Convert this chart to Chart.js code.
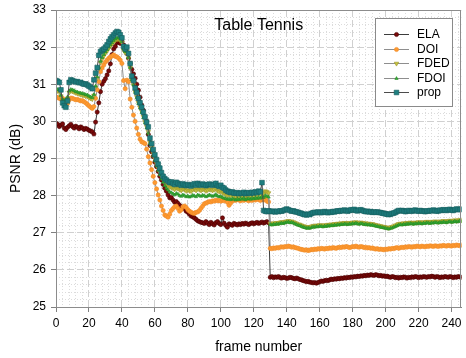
<!DOCTYPE html>
<html>
<head>
<meta charset="utf-8">
<script src="https://cdn.jsdelivr.net/npm/chart.js@4.4.1/dist/chart.umd.min.js"></script>
<style>
  html, body { margin: 0; padding: 0; background: #ffffff; }
  canvas { display: block; }
</style>
</head>
<body>
<canvas id="psnr" width="466" height="358"></canvas>
<script>
// PSNR per frame for the "Table Tennis" sequence, one array per method.
const ELA = [
  29.95, 29.92, 29.86, 29.90, 29.93, 29.82, 29.78, 29.84, 29.88, 29.92,
  29.86, 29.82, 29.87, 29.84, 29.80, 29.85, 29.82, 29.78, 29.81, 29.79,
  29.76, 29.74, 29.72, 29.66, 29.98, 30.25, 30.50, 30.80, 31.00, 31.08,
  31.15, 31.25, 31.36, 31.55, 31.80, 31.95, 32.02, 32.12, 32.14, 32.10,
  32.15, 32.06, 31.95, 31.83, 31.70, 31.56, 31.40, 31.28, 31.16, 31.00,
  30.84, 30.65, 30.44, 30.30, 30.12, 30.00, 29.65, 29.35, 29.18, 29.05,
  28.90, 28.78, 28.65, 28.52, 28.42, 28.30, 28.20, 28.12, 28.02, 27.94,
  27.95, 27.88, 27.82, 27.84, 27.79, 27.74, 27.70, 27.66, 27.65, 27.58,
  27.55, 27.50, 27.45, 27.43, 27.40, 27.36, 27.32, 27.30, 27.28, 27.27,
  27.25, 27.30, 27.26, 27.22, 27.28, 27.24, 27.21, 27.27, 27.30, 27.25,
  27.22, 27.40, 27.26, 27.20, 27.15, 27.24, 27.22, 27.20, 27.25, 27.23,
  27.21, 27.24, 27.22, 27.25, 27.23, 27.26, 27.24, 27.22, 27.25, 27.27,
  27.24, 27.26, 27.28, 27.25, 27.27, 27.29, 27.26, 27.28, 27.30, 27.27,
  25.80, 25.82, 25.79, 25.81, 25.80, 25.82, 25.79, 25.78, 25.80, 25.79,
  25.77, 25.78, 25.80, 25.79, 25.77, 25.76, 25.78, 25.76, 25.74, 25.73,
  25.71, 25.70, 25.68, 25.69, 25.67, 25.66, 25.65, 25.66, 25.64, 25.66,
  25.68, 25.70, 25.69, 25.71, 25.72, 25.71, 25.73, 25.75, 25.74, 25.76,
  25.75, 25.77, 25.76, 25.78, 25.77, 25.79, 25.78, 25.80, 25.79, 25.81,
  25.80, 25.82, 25.81, 25.83, 25.82, 25.84, 25.83, 25.85, 25.84, 25.86,
  25.85, 25.87, 25.86, 25.85, 25.87, 25.86, 25.84, 25.85, 25.83, 25.84,
  25.82, 25.83, 25.81, 25.80, 25.82, 25.81, 25.79, 25.80, 25.78, 25.80,
  25.79, 25.81, 25.80, 25.78, 25.80, 25.79, 25.81, 25.80, 25.82, 25.81,
  25.79, 25.81, 25.80, 25.82, 25.81, 25.80, 25.82, 25.81, 25.83, 25.82,
  25.80, 25.82, 25.81, 25.79, 25.81, 25.80, 25.82, 25.81, 25.80, 25.82,
  25.81, 25.79, 25.81, 25.80, 25.82, 25.81, 25.80
];

const DOI = [
  30.66, 30.64, 30.62, 30.60, 30.62, 30.57, 30.50, 30.48, 30.58, 30.63,
  30.62, 30.60, 30.58, 30.59, 30.57, 30.55, 30.56, 30.53, 30.50, 30.46,
  30.42, 30.38, 30.35, 30.40, 30.62, 30.85, 31.07, 31.34, 31.44, 31.52,
  31.60, 31.65, 31.70, 31.73, 31.76, 31.79, 31.75, 31.74, 31.70, 31.65,
  31.56, 31.10, 30.88, 31.11, 31.07, 30.60, 30.38, 30.17, 30.00, 29.82,
  29.65, 29.52, 29.45, 29.43, 29.40, 29.25, 29.05, 28.88, 28.70, 28.52,
  28.35, 28.18, 28.02, 27.88, 27.72, 27.60, 27.48, 27.45, 27.42, 27.50,
  27.60, 27.65, 27.70, 27.72, 27.66, 27.58, 27.62, 27.70, 27.72, 27.68,
  27.62, 27.58, 27.55, 27.53, 27.52, 27.55, 27.56, 27.60, 27.66, 27.72,
  27.78, 27.80, 27.82, 27.84, 27.83, 27.86, 27.85, 27.88, 27.86, 27.87,
  27.85, 27.88, 27.86, 27.89, 27.82, 27.74, 27.80, 27.86, 27.88, 27.87,
  27.90, 27.88, 27.86, 27.89, 27.87, 27.90, 27.88, 27.86, 27.89, 27.87,
  27.90, 27.88, 27.91, 27.89, 27.87, 27.90, 27.88, 27.92, 27.85, 27.83,
  26.58, 26.57, 26.59, 26.58, 26.60, 26.59, 26.61, 26.62, 26.61, 26.63,
  26.62, 26.64, 26.63, 26.61, 26.62, 26.60, 26.59, 26.58, 26.56, 26.55,
  26.54, 26.53, 26.54, 26.52, 26.53, 26.55, 26.54, 26.56, 26.55, 26.57,
  26.56, 26.58, 26.57, 26.56, 26.58, 26.57, 26.59, 26.58, 26.60, 26.59,
  26.58, 26.60, 26.61, 26.60, 26.62, 26.61, 26.63, 26.62, 26.60, 26.61,
  26.63, 26.62, 26.64, 26.62, 26.61, 26.63, 26.62, 26.60, 26.61, 26.59,
  26.60, 26.58, 26.59, 26.57, 26.56, 26.57, 26.55, 26.56, 26.55, 26.54,
  26.56, 26.55, 26.57, 26.56, 26.58, 26.57, 26.59, 26.60, 26.58, 26.60,
  26.61, 26.60, 26.62, 26.61, 26.63, 26.62, 26.61, 26.63, 26.62, 26.64,
  26.63, 26.62, 26.64, 26.63, 26.62, 26.64, 26.63, 26.65, 26.64, 26.63,
  26.65, 26.64, 26.63, 26.65, 26.64, 26.66, 26.65, 26.64, 26.66, 26.65,
  26.64, 26.66, 26.65, 26.67, 26.66, 26.65, 26.67
];

const FDED = [
  30.84, 30.82, 30.80, 30.68, 30.58, 30.52, 30.54, 30.62, 30.78, 30.82,
  30.81, 30.79, 30.77, 30.75, 30.74, 30.72, 30.71, 30.70, 30.68, 30.67,
  30.64, 30.62, 30.60, 30.70, 30.92, 31.16, 31.42, 31.58, 31.68, 31.76,
  31.84, 31.90, 31.97, 32.03, 32.09, 32.14, 32.18, 32.21, 32.22, 32.18,
  32.12, 31.92, 31.85, 31.88, 31.70, 31.44, 31.12, 30.98, 30.80, 30.66,
  30.50, 30.38, 30.27, 30.13, 29.99, 29.86, 29.72, 29.44, 29.30, 29.13,
  28.99, 28.86, 28.74, 28.63, 28.52, 28.44, 28.37, 28.31, 28.27, 28.23,
  28.22, 28.20, 28.17, 28.21, 28.19, 28.16, 28.14, 28.18, 28.16, 28.13,
  28.15, 28.13, 28.12, 28.16, 28.17, 28.14, 28.18, 28.16, 28.14, 28.17,
  28.16, 28.13, 28.15, 28.17, 28.16, 28.14, 28.16, 28.18, 28.13, 28.11,
  28.12, 28.08, 28.06, 28.03, 28.01, 28.02, 28.00, 28.02, 28.00, 27.99,
  28.01, 27.99, 28.01, 28.00, 28.03, 27.99, 28.01, 28.02, 28.00, 28.03,
  28.01, 28.04, 28.02, 28.05, 28.03, 28.08, 28.06, 28.12, 28.10, 28.07,
  27.25, 27.24, 27.26, 27.25, 27.27, 27.26, 27.28, 27.29, 27.28, 27.30,
  27.31, 27.32, 27.30, 27.31, 27.29, 27.27, 27.25, 27.23, 27.22, 27.20,
  27.18, 27.17, 27.15, 27.16, 27.15, 27.17, 27.19, 27.18, 27.20, 27.19,
  27.21, 27.20, 27.19, 27.21, 27.20, 27.22, 27.21, 27.23, 27.22, 27.24,
  27.23, 27.25, 27.24, 27.26, 27.25, 27.27, 27.26, 27.25, 27.27, 27.26,
  27.28, 27.27, 27.29, 27.27, 27.26, 27.28, 27.27, 27.25, 27.26, 27.24,
  27.25, 27.23, 27.24, 27.22, 27.21, 27.20, 27.19, 27.18, 27.17, 27.16,
  27.15, 27.14, 27.13, 27.15, 27.16, 27.18, 27.20, 27.22, 27.24, 27.25,
  27.24, 27.26, 27.25, 27.27, 27.26, 27.28, 27.27, 27.26, 27.28, 27.27,
  27.29, 27.28, 27.27, 27.29, 27.28, 27.30, 27.29, 27.28, 27.30, 27.29,
  27.31, 27.30, 27.29, 27.31, 27.30, 27.32, 27.31, 27.30, 27.32, 27.33,
  27.31, 27.32, 27.34, 27.32, 27.33, 27.35, 27.33
];

const FDOI = [
  30.88, 30.86, 30.85, 30.70, 30.60, 30.56, 30.58, 30.66, 30.82, 30.86,
  30.85, 30.83, 30.80, 30.79, 30.77, 30.76, 30.75, 30.74, 30.72, 30.71,
  30.68, 30.66, 30.64, 30.72, 30.95, 31.20, 31.45, 31.62, 31.72, 31.80,
  31.87, 31.93, 32.00, 32.06, 32.12, 32.18, 32.22, 32.25, 32.26, 32.22,
  32.15, 31.95, 31.88, 31.90, 31.72, 31.45, 31.12, 30.98, 30.78, 30.64,
  30.48, 30.36, 30.24, 30.10, 29.96, 29.82, 29.68, 29.40, 29.25, 29.08,
  28.94, 28.80, 28.68, 28.56, 28.45, 28.36, 28.27, 28.20, 28.15, 28.10,
  28.08, 28.05, 28.02, 28.06, 28.04, 28.00, 27.98, 28.02, 28.00, 27.97,
  27.99, 27.96, 27.98, 28.01, 27.99, 27.97, 28.02, 28.00, 27.98, 28.01,
  28.00, 27.97, 27.99, 28.02, 28.00, 27.98, 28.00, 28.03, 27.99, 27.97,
  27.98, 27.95, 27.93, 27.92, 27.90, 27.91, 27.89, 27.92, 27.90, 27.88,
  27.91, 27.89, 27.92, 27.90, 27.93, 27.89, 27.91, 27.92, 27.90, 27.93,
  27.91, 27.94, 27.92, 27.95, 27.93, 27.97, 27.95, 28.00, 27.98, 27.96,
  27.22, 27.21, 27.23, 27.22, 27.24, 27.23, 27.25, 27.26, 27.25, 27.27,
  27.28, 27.29, 27.27, 27.28, 27.26, 27.24, 27.22, 27.20, 27.19, 27.17,
  27.15, 27.14, 27.12, 27.13, 27.12, 27.14, 27.16, 27.15, 27.17, 27.16,
  27.18, 27.17, 27.16, 27.18, 27.17, 27.19, 27.18, 27.20, 27.19, 27.21,
  27.20, 27.22, 27.21, 27.23, 27.22, 27.24, 27.23, 27.22, 27.24, 27.23,
  27.25, 27.24, 27.26, 27.24, 27.23, 27.25, 27.24, 27.22, 27.23, 27.21,
  27.22, 27.20, 27.21, 27.19, 27.18, 27.17, 27.16, 27.15, 27.14, 27.13,
  27.12, 27.11, 27.10, 27.12, 27.13, 27.15, 27.17, 27.19, 27.21, 27.22,
  27.21, 27.23, 27.22, 27.24, 27.23, 27.25, 27.24, 27.23, 27.25, 27.24,
  27.26, 27.25, 27.24, 27.26, 27.25, 27.27, 27.26, 27.25, 27.27, 27.26,
  27.28, 27.27, 27.26, 27.28, 27.27, 27.29, 27.28, 27.27, 27.29, 27.30,
  27.28, 27.29, 27.31, 27.29, 27.30, 27.32, 27.30
];

const prop = [
  31.10, 31.08, 31.05, 30.85, 30.50, 30.42, 30.38, 30.55, 31.05, 31.12,
  31.10, 31.08, 31.06, 31.07, 31.04, 31.05, 31.02, 31.00, 31.01, 30.98,
  30.95, 30.92, 30.88, 31.12, 31.30, 31.45, 31.78, 31.88, 31.92, 31.95,
  32.00, 32.06, 32.15, 32.22, 32.28, 32.33, 32.38, 32.42, 32.40, 32.33,
  32.25, 32.02, 31.95, 32.00, 31.83, 31.56, 31.22, 31.10, 30.90, 30.78,
  30.62, 30.50, 30.38, 30.25, 30.12, 29.98, 29.85, 29.55, 29.40, 29.24,
  29.10, 28.97, 28.85, 28.74, 28.62, 28.52, 28.46, 28.42, 28.38, 28.35,
  28.37, 28.33, 28.30, 28.36, 28.33, 28.30, 28.28, 28.32, 28.29, 28.27,
  28.30, 28.28, 28.26, 28.30, 28.32, 28.28, 28.33, 28.30, 28.28, 28.31,
  28.30, 28.27, 28.29, 28.31, 28.30, 28.28, 28.30, 28.33, 28.27, 28.25,
  28.28, 28.22, 28.20, 28.15, 28.12, 28.10, 28.08, 28.10, 28.07, 28.06,
  28.08, 28.05, 28.07, 28.06, 28.09, 28.05, 28.07, 28.08, 28.06, 28.09,
  28.07, 28.10, 28.08, 28.12, 28.10, 28.35, 27.60, 27.58, 27.57, 27.59,
  27.58, 27.57, 27.58, 27.56, 27.58, 27.57, 27.59, 27.58, 27.60, 27.62,
  27.64, 27.62, 27.60, 27.58, 27.59, 27.57, 27.56, 27.55, 27.53, 27.52,
  27.50, 27.49, 27.48, 27.50, 27.49, 27.52, 27.54, 27.55, 27.54, 27.56,
  27.55, 27.54, 27.56, 27.57, 27.55, 27.54, 27.56, 27.55, 27.57, 27.56,
  27.58, 27.59, 27.58, 27.60, 27.59, 27.61, 27.60, 27.58, 27.60, 27.62,
  27.61, 27.63, 27.60, 27.59, 27.61, 27.62, 27.60, 27.58, 27.57, 27.58,
  27.56, 27.57, 27.55, 27.56, 27.55, 27.56, 27.55, 27.54, 27.53, 27.52,
  27.51, 27.50, 27.49, 27.50, 27.52, 27.53, 27.55, 27.58, 27.60, 27.59,
  27.60, 27.59, 27.57, 27.58, 27.60, 27.59, 27.58, 27.60, 27.61, 27.59,
  27.58, 27.60, 27.59, 27.58, 27.57, 27.59, 27.58, 27.60, 27.59, 27.61,
  27.60, 27.58, 27.59, 27.61, 27.60, 27.62, 27.61, 27.60, 27.62, 27.63,
  27.61, 27.60, 27.62, 27.64, 27.63, 27.62, 27.64
];

const seriesNames = ['ELA', 'DOI', 'FDED', 'FDOI', 'prop'];
const xTickValues = [0, 20, 40, 60, 80, 100, 120, 140, 160, 180, 200, 220, 240];
const yTickValues = [25, 26, 27, 28, 29, 30, 31, 32, 33];
const chartTitle = 'Table Tennis';
const xAxisTitle = 'frame number';
const yAxisTitle = 'PSNR (dB)';

// frame index of every sample
const frameNumbers = ELA.map((_, i) => i);

const FONT = "'Liberation Sans', Arial, sans-serif";

function isWhole(v) { return Math.abs(v - Math.round(v)) < 1e-6; }

const chartDecor = {
  id: 'chartDecor',
  beforeDraw(chart) {
    const ctx = chart.ctx;
    ctx.save();
    ctx.fillStyle = '#ffffff';
    ctx.fillRect(0, 0, chart.width, chart.height);
    ctx.restore();
  },
  afterDatasetsDraw(chart) {
    const ctx = chart.ctx;
    const a = chart.chartArea;
    ctx.save();
    // plot frame
    ctx.strokeStyle = '#8c8c8c';
    ctx.lineWidth = 1;
    ctx.strokeRect(Math.round(a.left) + 0.5, Math.round(a.top) + 0.5,
                   Math.round(a.right - a.left) - 1, Math.round(a.bottom - a.top));
    // title inside the plot
    ctx.fillStyle = '#000000';
    ctx.font = '16px ' + FONT;
    ctx.textAlign = 'center';
    ctx.textBaseline = 'middle';
    ctx.fillText(chartTitle, (a.left + a.right) / 2, a.top + 16);

    // legend box in the upper right corner
    const x0 = Math.round(a.right) - 86;
    const y0 = Math.round(a.top) + 8;
    const w = 77, h = 88;
    ctx.fillStyle = '#ffffff';
    ctx.fillRect(x0, y0, w, h);
    ctx.strokeStyle = '#8a8a8a';
    ctx.strokeRect(x0 + 0.5, y0 + 0.5, w, h);
    ctx.font = '12px ' + FONT;
    ctx.textAlign = 'left';
    chart.data.datasets.forEach((ds, i) => {
      const y = Math.round(y0 + 16 + i * 14.6) + 0.5;
      ctx.strokeStyle = ds.borderColor;
      ctx.lineWidth = 1;
      ctx.beginPath();
      ctx.moveTo(x0 + 9, y);
      ctx.lineTo(x0 + 34, y);
      ctx.stroke();
      ctx.fillStyle = ds.pointBackgroundColor;
      ctx.strokeStyle = ds.pointBorderColor;
      ctx.lineWidth = ds.pointBorderWidth;
      Chart.helpers.drawPoint(ctx, {
        pointStyle: ds.pointStyle,
        rotation: ds.pointRotation || 0,
        radius: ds.pointRadius,
        borderWidth: ds.pointBorderWidth
      }, x0 + 21.5, y);
      ctx.fillStyle = '#000000';
      ctx.fillText(ds.label, x0 + 42, y);
    });
    ctx.restore();
  }
};

new Chart(document.getElementById('psnr'), {
  type: 'line',
  data: {
    labels: frameNumbers,
    datasets: [
      { label: seriesNames[0], data: ELA, borderColor: '#3c3c3c', borderWidth: 1,
        pointStyle: 'circle', pointRadius: 2.1, pointBackgroundColor: '#7a0b0b',
        pointBorderColor: '#4a0000', pointBorderWidth: 0.6, order: 5 },
      { label: seriesNames[1], data: DOI, borderColor: '#8e8e8e', borderWidth: 1,
        pointStyle: 'circle', pointRadius: 2.1, pointBackgroundColor: '#ff9a30',
        pointBorderColor: '#ee8a26', pointBorderWidth: 0.6, order: 4 },
      { label: seriesNames[2], data: FDED, borderColor: '#8e8e8e', borderWidth: 1,
        pointStyle: 'triangle', pointRotation: 180, pointRadius: 2.6,
        pointBackgroundColor: '#c6c23e', pointBorderColor: '#9a9626', pointBorderWidth: 0.6, order: 3 },
      { label: seriesNames[3], data: FDOI, borderColor: '#8e8e8e', borderWidth: 1,
        pointStyle: 'triangle', pointRadius: 1.9, pointBackgroundColor: '#36ad36',
        pointBorderColor: '#228a22', pointBorderWidth: 0.6, order: 2 },
      { label: seriesNames[4], data: prop, borderColor: '#4c4c4c', borderWidth: 1,
        pointStyle: 'rect', pointRadius: 3.3, pointBackgroundColor: '#1f7f80',
        pointBorderColor: '#165e5e', pointBorderWidth: 0.6, order: 1 }
    ]
  },
  options: {
    responsive: false,
    animation: false,
    devicePixelRatio: 1,
    events: [],
    layout: { padding: { top: 10, right: 2, left: 0, bottom: 0 } },
    elements: { line: { tension: 0 } },
    plugins: { legend: { display: false }, tooltip: { enabled: false }, title: { display: false } },
    scales: {
      xMinor: {
        type: 'linear', position: 'bottom', min: 0, max: 246,
        ticks: { display: false, stepSize: 4, includeBounds: false },
        grid: { drawTicks: false, lineWidth: 1,
                color: c => (c.tick && c.tick.value % 20 === 0) ? 'rgba(0,0,0,0)' : '#dcdcdc' },
        border: { display: false, dash: [1, 2] }
      },
      yMinor: {
        type: 'linear', position: 'left', min: 25, max: 33,
        ticks: { display: false, stepSize: 0.2, includeBounds: false },
        grid: { drawTicks: false, lineWidth: 1,
                color: c => (c.tick && isWhole(c.tick.value)) ? 'rgba(0,0,0,0)' : '#dcdcdc' },
        border: { display: false, dash: [1, 2] }
      },
      x: {
        type: 'linear', position: 'bottom', min: 0, max: 246,
        afterBuildTicks: s => { s.ticks = xTickValues.map(v => ({ value: v })); },
        afterFit: s => { s.height = 51; s.paddingLeft = 0; s.paddingRight = 0; },
        ticks: { color: '#000000', font: { family: FONT, size: 12 }, padding: 4,
                 maxRotation: 0, autoSkip: false },
        grid: { color: '#d0d0d0', lineWidth: 1, tickLength: 5, tickColor: '#808080',
                tickBorderDash: [] },
        border: { display: true, color: '#808080', width: 1, dash: [7, 3] },
        title: { display: true, text: xAxisTitle, color: '#000000',
                 font: { family: FONT, size: 14 }, padding: { top: 0, bottom: 2 } }
      },
      y: {
        type: 'linear', position: 'left', min: 25, max: 33,
        afterBuildTicks: s => { s.ticks = yTickValues.map(v => ({ value: v })); },
        afterFit: s => { s.width = 56; s.paddingTop = 0; s.paddingBottom = 0; },
        ticks: { color: '#000000', font: { family: FONT, size: 12 }, padding: 5 },
        grid: { color: '#d0d0d0', lineWidth: 1, tickLength: 5, tickColor: '#808080',
                tickBorderDash: [] },
        border: { display: true, color: '#808080', width: 1, dash: [7, 3] },
        title: { display: true, text: yAxisTitle, color: '#000000',
                 font: { family: FONT, size: 14 }, padding: { top: 8, bottom: 0 } }
      }
    }
  },
  plugins: [chartDecor]
});
</script>
</body>
</html>
